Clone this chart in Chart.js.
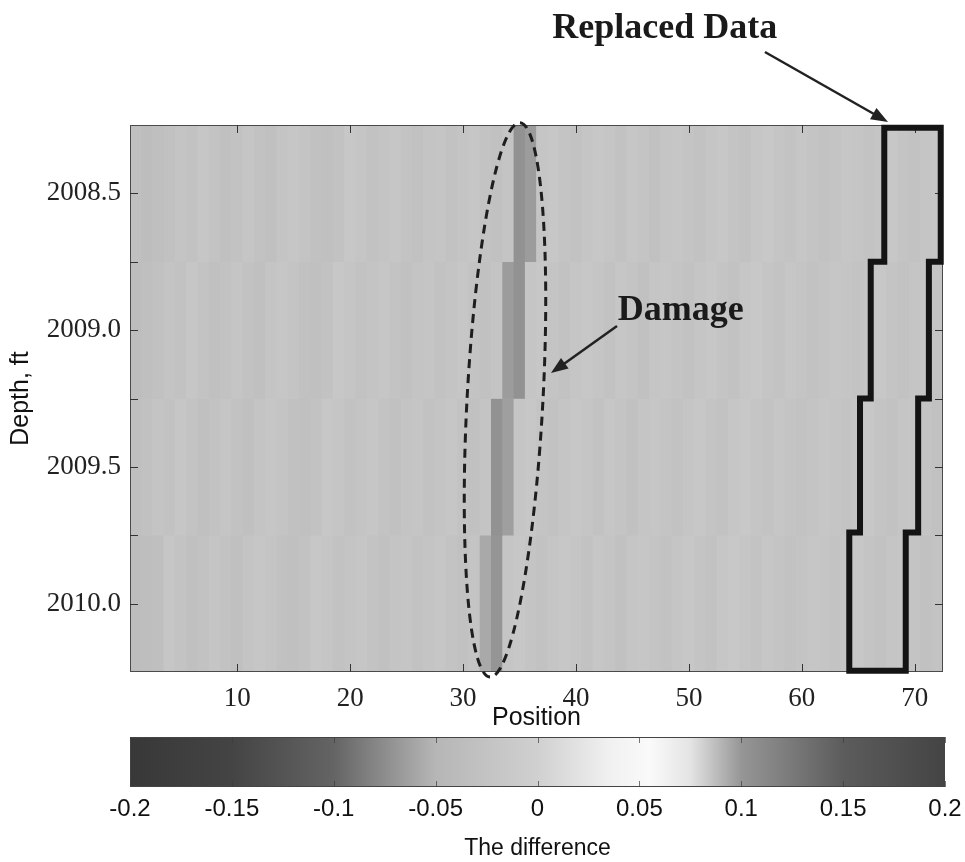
<!DOCTYPE html>
<html>
<head>
<meta charset="utf-8">
<script src="https://cdn.jsdelivr.net/npm/chart.js@4.4.1/dist/chart.umd.min.js"></script>
<style>
  body { margin: 0; background: #fff; }
  #wrap { position: relative; width: 965px; height: 862px; }
  #heat { position: absolute; left: 0; top: 0; }
  #bar { position: absolute; left: 0; top: 735px; }
</style>
</head>
<body>
<div id="wrap">
  <canvas id="heat" width="965" height="735"></canvas>
  <canvas id="bar" width="965" height="127"></canvas>
</div>
<script>
// positions around the tool (x) and depth rows (y)
const positions = [1,2,3,4,5,6,7,8,9,10,11,12,13,14,15,16,17,18,19,20,21,22,23,24,
  25,26,27,28,29,30,31,32,33,34,35,36,37,38,39,40,41,42,43,44,45,46,47,48,
  49,50,51,52,53,54,55,56,57,58,59,60,61,62,63,64,65,66,67,68,69,70,71,72];
const rowEdges = [2008.25, 2008.75, 2009.25, 2009.75, 2010.25];

// difference values, one list per depth row
const row1 = [
  -0.030,-0.036,-0.033,-0.028,-0.024,-0.026,-0.020,-0.025,-0.030,-0.027,-0.022,-0.026,
  -0.030,-0.024,-0.019,-0.023,-0.028,-0.031,-0.026,-0.018,-0.022,-0.027,-0.024,-0.020,
  -0.025,-0.029,-0.023,-0.021,-0.026,-0.024,-0.020,-0.025,-0.028,-0.024,-0.072,-0.066,
  -0.022,-0.018,-0.023,-0.027,-0.021,-0.017,-0.022,-0.026,-0.020,-0.024,-0.028,-0.022,
  -0.019,-0.024,-0.027,-0.021,-0.018,-0.023,-0.026,-0.020,-0.016,-0.021,-0.025,-0.019,
  -0.023,-0.027,-0.024,-0.020,-0.022,-0.025,-0.021,-0.018,-0.023,-0.026,-0.022,-0.019];
const row2 = [
  -0.036,-0.033,-0.028,-0.024,-0.026,-0.020,-0.025,-0.030,-0.027,-0.022,-0.026,-0.030,
  -0.024,-0.019,-0.023,-0.028,-0.031,-0.026,-0.018,-0.022,-0.027,-0.024,-0.020,-0.025,
  -0.029,-0.023,-0.021,-0.026,-0.024,-0.020,-0.025,-0.028,-0.024,-0.066,-0.072,-0.022,
  -0.018,-0.023,-0.027,-0.021,-0.017,-0.022,-0.026,-0.020,-0.024,-0.028,-0.022,-0.019,
  -0.024,-0.027,-0.021,-0.018,-0.023,-0.026,-0.020,-0.016,-0.021,-0.025,-0.019,-0.023,
  -0.027,-0.024,-0.020,-0.022,-0.025,-0.021,-0.018,-0.023,-0.026,-0.022,-0.019,-0.024];
const row3 = [
  -0.033,-0.028,-0.024,-0.026,-0.020,-0.025,-0.030,-0.027,-0.022,-0.026,-0.030,-0.024,
  -0.019,-0.023,-0.028,-0.031,-0.026,-0.018,-0.022,-0.027,-0.024,-0.020,-0.025,-0.029,
  -0.023,-0.021,-0.026,-0.024,-0.020,-0.025,-0.028,-0.024,-0.072,-0.064,-0.022,-0.018,
  -0.023,-0.027,-0.021,-0.017,-0.022,-0.026,-0.020,-0.024,-0.028,-0.022,-0.019,-0.024,
  -0.027,-0.021,-0.018,-0.023,-0.026,-0.020,-0.016,-0.021,-0.025,-0.019,-0.023,-0.027,
  -0.024,-0.020,-0.022,-0.025,-0.021,-0.018,-0.023,-0.026,-0.022,-0.019,-0.024,-0.028];
const row4 = [
  -0.036,-0.034,-0.032,-0.020,-0.025,-0.030,-0.027,-0.022,-0.026,-0.030,-0.024,-0.019,
  -0.023,-0.028,-0.031,-0.026,-0.018,-0.022,-0.027,-0.024,-0.020,-0.025,-0.029,-0.023,
  -0.021,-0.026,-0.024,-0.020,-0.025,-0.028,-0.024,-0.058,-0.070,-0.022,-0.018,-0.023,
  -0.027,-0.021,-0.017,-0.022,-0.026,-0.020,-0.024,-0.028,-0.022,-0.019,-0.024,-0.027,
  -0.021,-0.018,-0.023,-0.026,-0.020,-0.016,-0.021,-0.025,-0.019,-0.023,-0.027,-0.024,
  -0.020,-0.022,-0.025,-0.021,-0.018,-0.023,-0.026,-0.022,-0.019,-0.024,-0.028,-0.025];

// axis ticks
const xTicks = [10, 20, 30, 40, 50, 60, 70];
const depthTicks = [2008.5, 2009.0, 2009.5, 2010.0];
const depthLabels = ['2008.5', '2009.0', '2009.5', '2010.0'];
const depthMinor = [2008.5, 2008.75, 2009.0, 2009.25, 2009.5, 2009.75, 2010.0];

// colour bar
const cbTicks = [-0.2, -0.15, -0.1, -0.05, 0, 0.05, 0.1, 0.15, 0.2];
const cbLabels = ['-0.2', '-0.15', '-0.1', '-0.05', '0', '0.05', '0.1', '0.15', '0.2'];
const cmapValues = [-0.2, -0.15, -0.1, -0.05, 0, 0.035, 0.055, 0.075, 0.1, 0.15, 0.2];
const cmapGrays  = [  56,    68,  100,   182, 208,   240,   250,   228, 150,   92,  68];

// replaced-data outline (left / right edge per row)
const outlineLeft  = [67.3, 66.1, 65.15, 64.2];
const outlineRight = [72.3, 71.25, 70.3, 69.2];
const outlineEdges = [2008.26, 2008.75, 2009.25, 2009.74, 2010.245];

function grayFor(v) {
  let g = cmapGrays[0];
  if (v >= cmapValues[cmapValues.length - 1]) g = cmapGrays[cmapGrays.length - 1];
  for (let i = 0; i < cmapValues.length - 1; i++) {
    if (v >= cmapValues[i] && v <= cmapValues[i + 1]) {
      const t = (v - cmapValues[i]) / (cmapValues[i + 1] - cmapValues[i]);
      g = cmapGrays[i] + t * (cmapGrays[i + 1] - cmapGrays[i]);
      break;
    }
  }
  g = Math.round(g);
  return 'rgb(' + g + ',' + g + ',' + g + ')';
}

const tickFont = { family: '"Liberation Serif", "Times New Roman", serif', size: 27 };
const sansFont = '"Liberation Sans", Arial, sans-serif';

function arrow(ctx, x0, y0, x1, y1) {
  const a = Math.atan2(y1 - y0, x1 - x0);
  const L = 17, W = 6.5;
  ctx.beginPath();
  ctx.moveTo(x0, y0);
  ctx.lineTo(x1 - Math.cos(a) * L * 0.8, y1 - Math.sin(a) * L * 0.8);
  ctx.stroke();
  ctx.beginPath();
  ctx.moveTo(x1, y1);
  ctx.lineTo(x1 - Math.cos(a) * L + Math.sin(a) * W, y1 - Math.sin(a) * L - Math.cos(a) * W);
  ctx.lineTo(x1 - Math.cos(a) * L - Math.sin(a) * W, y1 - Math.sin(a) * L + Math.cos(a) * W);
  ctx.closePath();
  ctx.fill();
}

const heatPlugin = {
  id: 'heatExtras',
  beforeDatasetsDraw(chart) {
    const { ctx, chartArea: a } = chart;
    ctx.save();
    ctx.fillStyle = grayFor(-0.024);
    ctx.fillRect(a.left, a.top, a.right - a.left, a.bottom - a.top);
    ctx.restore();
  },
  afterDraw(chart) {
    const { ctx, chartArea: a } = chart;
    const xs = chart.scales.x, ys = chart.scales.y;
    const px = v => xs.getPixelForValue(v), py = v => ys.getPixelForValue(v);
    ctx.save();
    // frame and inner ticks
    ctx.strokeStyle = '#4a4a4a';
    ctx.lineWidth = 1;
    ctx.strokeRect(a.left + 0.5, a.top + 0.5, a.right - a.left - 1, a.bottom - a.top - 1);
    ctx.strokeStyle = '#333';
    ctx.beginPath();
    xTicks.forEach(v => {
      const x = Math.round(px(v)) + 0.5;
      ctx.moveTo(x, a.bottom); ctx.lineTo(x, a.bottom - 8);
      ctx.moveTo(x, a.top); ctx.lineTo(x, a.top + 8);
    });
    depthMinor.forEach(v => {
      const y = Math.round(py(v)) + 0.5;
      ctx.moveTo(a.left, y); ctx.lineTo(a.left + 8, y);
      ctx.moveTo(a.right, y); ctx.lineTo(a.right - 8, y);
    });
    ctx.stroke();

    // replaced data outline
    ctx.strokeStyle = '#141414';
    ctx.lineWidth = 6;
    ctx.lineJoin = 'miter';
    ctx.beginPath();
    ctx.moveTo(px(outlineLeft[0]), py(outlineEdges[0]));
    ctx.lineTo(px(outlineRight[0]), py(outlineEdges[0]));
    for (let r = 0; r < 4; r++) {
      ctx.lineTo(px(outlineRight[r]), py(outlineEdges[r + 1]));
      if (r < 3) ctx.lineTo(px(outlineRight[r + 1]), py(outlineEdges[r + 1]));
    }
    ctx.lineTo(px(outlineLeft[3]), py(outlineEdges[4]));
    for (let r = 3; r >= 0; r--) {
      ctx.lineTo(px(outlineLeft[r]), py(outlineEdges[r]));
      if (r > 0) ctx.lineTo(px(outlineLeft[r - 1]), py(outlineEdges[r]));
    }
    ctx.closePath();
    ctx.stroke();

    // dashed ellipse around the damage
    ctx.strokeStyle = '#1e1e1e';
    ctx.lineWidth = 3;
    ctx.setLineDash([9, 6]);
    ctx.beginPath();
    ctx.ellipse(px(33.71), py(2009.255), px(33.71) - px(30.35), py(2010.27) - py(2009.255), 0.054, 0, Math.PI * 2);
    ctx.stroke();
    ctx.setLineDash([]);

    // arrows and labels
    ctx.strokeStyle = '#222';
    ctx.fillStyle = '#222';
    ctx.lineWidth = 2.5;
    arrow(ctx, px(56.73), py(2007.983), px(67.63), py(2008.239));
    arrow(ctx, px(43.63), py(2008.985), px(37.78), py(2009.157));
    ctx.fillStyle = '#1a1a1a';
    ctx.font = 'bold 36px "Liberation Serif", "Times New Roman", serif';
    ctx.textAlign = 'left';
    ctx.textBaseline = 'alphabetic';
    ctx.fillText('Replaced Data', px(37.9), py(2007.932));
    ctx.fillText('Damage', px(43.7), py(2008.963));
    ctx.restore();
  }
};

new Chart(document.getElementById('heat'), {
  type: 'bar',
  data: {
    datasets: [row1, row2, row3, row4].map((vals, r) => ({
      data: vals.map((v, i) => ({ x: positions[i], y: [rowEdges[r], rowEdges[r + 1]] })),
      backgroundColor: vals.map(grayFor),
      borderWidth: 0,
      borderSkipped: false,
      grouped: false,
      barPercentage: 1,
      categoryPercentage: 1
    }))
  },
  options: {
    responsive: false,
    animation: false,
    layout: { padding: { top: 125, right: 22, left: 0, bottom: 0 } },
    plugins: { legend: { display: false }, tooltip: { enabled: false } },
    scales: {
      x: {
        type: 'linear', min: 0.5, max: 72.5, offset: false,
        grid: { display: false }, border: { display: false },
        afterBuildTicks: s => { s.ticks = xTicks.map(v => ({ value: v })); },
        afterFit: s => { s.height = 63; s.paddingLeft = 0; s.paddingRight = 0; },
        ticks: { font: tickFont, color: '#222', padding: 3, maxRotation: 0, autoSkip: false,
          callback: v => String(v) },
        title: { display: true, text: 'Position', color: '#111',
          font: { family: sansFont, size: 25 }, padding: { top: 0, bottom: 2 } }
      },
      y: {
        type: 'linear', reverse: true, min: 2008.25, max: 2010.25,
        grid: { display: false }, border: { display: false },
        afterBuildTicks: s => { s.ticks = depthTicks.map(v => ({ value: v })); },
        afterFit: s => { s.width = 130; s.paddingTop = 0; s.paddingBottom = 0; },
        ticks: { font: tickFont, color: '#222', padding: 1, autoSkip: false,
          callback: (v, i) => depthLabels[i] },
        title: { display: true, text: 'Depth, ft', color: '#111',
          font: { family: sansFont, size: 25 }, padding: { top: 6, bottom: 0 } }
      }
    }
  },
  plugins: [heatPlugin]
});

const cbPlugin = {
  id: 'cbFrame',
  afterDraw(chart) {
    const { ctx, chartArea: a } = chart;
    const xs = chart.scales.x;
    ctx.save();
    ctx.strokeStyle = '#444';
    ctx.lineWidth = 1;
    ctx.strokeRect(a.left + 0.5, a.top + 0.5, a.right - a.left - 1, a.bottom - a.top - 1);
    ctx.strokeStyle = 'rgba(60,60,60,0.7)';
    ctx.beginPath();
    cbTicks.forEach(v => {
      const x = Math.round(xs.getPixelForValue(v)) + 0.5;
      ctx.moveTo(x, a.top); ctx.lineTo(x, a.top + 6);
      ctx.moveTo(x, a.bottom); ctx.lineTo(x, a.bottom - 6);
    });
    ctx.stroke();
    ctx.restore();
  }
};

new Chart(document.getElementById('bar'), {
  type: 'bar',
  data: {
    labels: ['difference'],
    datasets: [{
      data: [[cbTicks[0], cbTicks[cbTicks.length - 1]]],
      backgroundColor: c => {
        const area = c.chart.chartArea;
        if (!area) return '#888';
        const g = c.chart.ctx.createLinearGradient(area.left, 0, area.right, 0);
        cmapValues.forEach((v, i) => g.addColorStop((v + 0.2) / 0.4, grayFor(v)));
        return g;
      },
      borderWidth: 0,
      borderSkipped: false,
      barPercentage: 1,
      categoryPercentage: 1
    }]
  },
  options: {
    indexAxis: 'y',
    responsive: false,
    animation: false,
    layout: { padding: { top: 2, right: 20, left: 130, bottom: 0 } },
    plugins: { legend: { display: false }, tooltip: { enabled: false } },
    scales: {
      x: {
        type: 'linear', min: -0.2, max: 0.2, offset: false,
        grid: { display: false }, border: { display: false },
        afterBuildTicks: s => { s.ticks = cbTicks.map(v => ({ value: v })); },
        afterFit: s => { s.height = 75; s.paddingLeft = 0; s.paddingRight = 0; },
        ticks: { font: { family: sansFont, size: 24 }, color: '#111', padding: 0, maxRotation: 0,
          autoSkip: false, callback: (v, i) => cbLabels[i] },
        title: { display: true, text: 'The difference', color: '#111',
          font: { family: sansFont, size: 23 }, padding: { top: 0, bottom: 0 } }
      },
      y: { display: false }
    }
  },
  plugins: [cbPlugin]
});
</script>
</body>
</html>
